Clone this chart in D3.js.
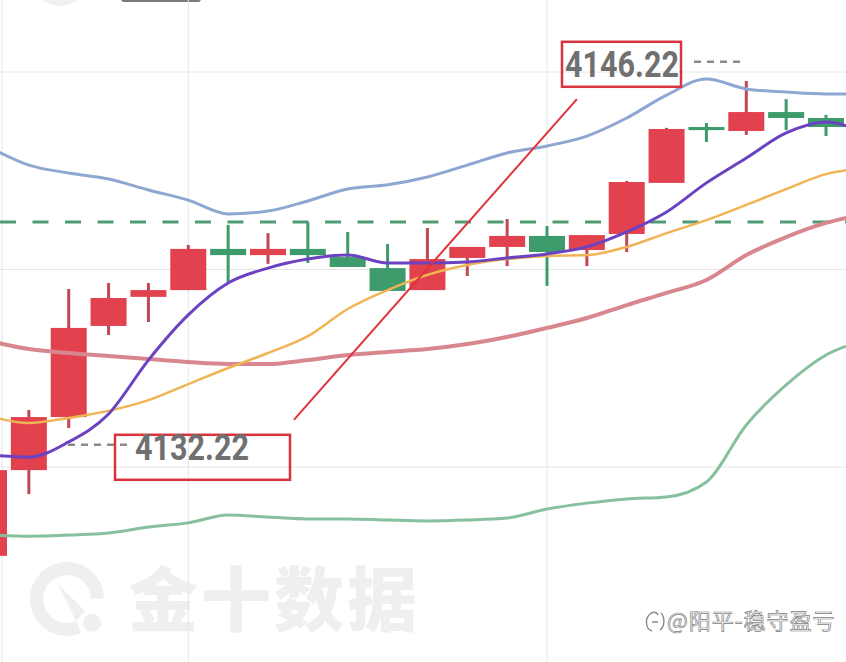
<!DOCTYPE html>
<html lang="zh">
<head>
<meta charset="utf-8">
<title>K线</title>
<style>
  html, body { margin: 0; padding: 0; background: #fff; }
  svg { display: block; }
</style>
</head>
<body>
<svg id="chart"></svg>
<script src="https://cdn.jsdelivr.net/npm/d3@7"></script>
<script>
const width = 846;
const height = 662;

// candles, left to right (first one is cut by the left edge)
const opens  = [4128.85, 4131.89, 4133.77, 4137.00, 4138.03, 4138.27, 4139.73, 4139.51, 4139.73, 4139.44, 4139.05,
                4138.27, 4139.41, 4139.80, 4140.19, 4139.69, 4140.26, 4142.07, 4144.05, 4143.91, 4144.58, 4144.37];
const closes = [4131.89, 4133.77, 4136.93, 4137.99, 4138.27, 4139.73, 4139.51, 4139.73, 4139.51, 4139.09, 4138.24,
                4139.37, 4139.80, 4140.19, 4139.62, 4140.22, 4142.10, 4143.98, 4143.94, 4144.58, 4144.37, 4144.05];
const highs  = [4131.96, 4134.02, 4138.31, 4138.52, 4138.52, 4139.87, 4140.58, 4140.29, 4140.68, 4140.33, 4139.90,
                4140.47, 4139.80, 4140.79, 4140.54, 4140.22, 4142.14, 4144.02, 4144.19, 4145.68, 4145.04, 4144.48];
const lows   = [4128.70, 4131.04, 4133.38, 4136.68, 4137.14, 4138.27, 4138.52, 4139.20, 4139.23, 4139.09, 4138.24,
                4138.27, 4138.77, 4139.12, 4138.42, 4139.12, 4139.62, 4142.07, 4143.52, 4143.77, 4143.94, 4143.73];

// bollinger bands + moving averages (one value per candle, last one runs past the edge)
const bollUpper = [4143.34, 4142.70, 4142.42, 4142.21, 4141.82, 4141.46, 4140.97, 4141.07, 4141.43, 4141.85, 4142.00, 4142.28,
                   4142.70, 4143.13, 4143.38, 4143.73, 4144.37, 4145.18, 4145.75, 4145.40, 4145.29, 4145.22, 4145.22];
const bollMid   = [4136.47, 4136.18, 4136.04, 4135.93, 4135.83, 4135.72, 4135.65, 4135.65, 4135.79, 4135.97, 4136.08, 4136.18,
                   4136.36, 4136.61, 4136.93, 4137.28, 4137.74, 4138.17, 4138.63, 4139.51, 4140.15, 4140.65, 4140.97];
const bollLower = [4129.59, 4129.55, 4129.59, 4129.66, 4129.87, 4130.02, 4130.30, 4130.23, 4130.16, 4130.16, 4130.12, 4130.09,
                   4130.12, 4130.19, 4130.51, 4130.72, 4130.87, 4130.94, 4131.47, 4133.49, 4134.91, 4135.97, 4136.50];
const ma5  = [4132.43, 4132.35, 4132.89, 4133.88, 4135.79, 4137.39, 4138.52, 4139.05, 4139.37, 4139.51, 4139.23, 4139.23,
              4139.27, 4139.41, 4139.55, 4139.80, 4140.33, 4141.04, 4142.07, 4142.95, 4143.84, 4144.23, 4143.80];
const ma10 = [4133.81, 4133.56, 4133.74, 4133.99, 4134.37, 4134.94, 4135.51, 4136.04, 4136.64, 4137.60, 4138.27, 4138.81,
              4139.16, 4139.37, 4139.48, 4139.51, 4139.80, 4140.29, 4140.75, 4141.29, 4141.85, 4142.38, 4142.60];

const gridPrices = [4146, 4139, 4132];
const gridCandles = [5, 14];
const dashLevel = 4140.68;
const trendLine = [[7.65, 4133.67], [14.75, 4145.04]];
const highLabel = 4146.22;
const lowLabel = 4132.22;

const red = "#e2414e";
const redWick = "#c04851";
const green = "#3e9b6c";

const svg = d3.select("#chart")
    .attr("width", width)
    .attr("height", height);

const x = d3.scaleLinear().domain([0, 21]).range([-11, 826]);
const y = d3.scaleLinear().domain([4132, 4146]).range([467, 72]);

// bits of app ui peeking at the top
svg.append("circle").attr("cx", 60).attr("cy", -22).attr("r", 28).attr("fill", "#f0f0f0");
svg.append("rect").attr("x", 121).attr("y", -6).attr("width", 80).attr("height", 8).attr("rx", 3).attr("fill", "#7a7a7a");

// watermark
const wm = svg.append("g").attr("fill", "#efefef");
wm.append("path")
    .attr("d", d3.arc().innerRadius(24).outerRadius(37).startAngle(2.75).endAngle(2.75 + Math.PI * 1.62)())
    .attr("transform", "translate(67,599)");
wm.append("path").attr("d", "M58,584 L85,611 L76,621 Z");
wm.append("circle").attr("cx", 92).attr("cy", 623).attr("r", 9);
wm.append("text")
    .attr("x", 128).attr("y", 626)
    .attr("font-family", "Noto Sans CJK SC")
    .attr("font-weight", 900)
    .attr("font-size", 70)
    .attr("letter-spacing", 3)
    .text("金十数据");

// grid
svg.append("line").attr("x1", 2).attr("x2", 2).attr("y1", 0).attr("y2", height)
    .attr("stroke", "#e4e4e4");
svg.selectAll(".hgrid").data(gridPrices).enter().append("line")
    .attr("class", "hgrid")
    .attr("x1", 0).attr("x2", width)
    .attr("y1", d => y(d)).attr("y2", d => y(d))
    .attr("stroke", "#e6e6e6");
svg.selectAll(".vgrid").data(gridCandles).enter().append("line")
    .attr("class", "vgrid")
    .attr("x1", d => x(d)).attr("x2", d => x(d))
    .attr("y1", 0).attr("y2", height)
    .attr("stroke", "#e6e6e6");

// green dashed level
svg.append("line")
    .attr("x1", 0).attr("x2", width)
    .attr("y1", y(dashLevel)).attr("y2", y(dashLevel))
    .attr("stroke", "#4f9c72")
    .attr("stroke-width", 3)
    .attr("stroke-dasharray", "16,16.5");

// candles
const candles = opens.map((o, i) => ({ i, o, c: closes[i], h: highs[i], l: lows[i] }));
const g = svg.selectAll(".candle").data(candles).enter().append("g").attr("class", "candle");
g.append("line")
    .attr("x1", d => x(d.i)).attr("x2", d => x(d.i))
    .attr("y1", d => y(d.h)).attr("y2", d => y(d.l))
    .attr("stroke", d => d.c >= d.o ? redWick : green)
    .attr("stroke-width", 3);
g.append("rect")
    .attr("x", d => x(d.i) - 18)
    .attr("width", 36)
    .attr("y", d => y(Math.max(d.o, d.c)))
    .attr("height", d => Math.max(Math.abs(y(d.o) - y(d.c)), 3))
    .attr("fill", d => d.c >= d.o ? red : green);

// indicator lines
const line = d3.line().x((d, i) => x(i)).y(d => y(d)).curve(d3.curveMonotoneX);
const series = [
    { data: bollLower, color: "#86c09f", w: 3 },
    { data: bollMid, color: "#d9878e", w: 4 },
    { data: bollUpper, color: "#8ea6d2", w: 3 },
    { data: ma10, color: "#f0b455", w: 2.5 },
    { data: ma5, color: "#6a42c2", w: 3 }
];
svg.selectAll(".ind").data(series).enter().append("path")
    .attr("class", "ind")
    .attr("d", d => line(d.data))
    .attr("fill", "none")
    .attr("stroke", d => d.color)
    .attr("stroke-width", d => d.w)
    .attr("stroke-linejoin", "round");

// hand drawn red trend line
svg.append("line")
    .attr("x1", x(trendLine[0][0])).attr("y1", y(trendLine[0][1]))
    .attr("x2", x(trendLine[1][0])).attr("y2", y(trendLine[1][1]))
    .attr("stroke", "#e0323c")
    .attr("stroke-width", 2);

// price labels
function priceLabel(val, boxX, boxW, boxDy, textX, textDy, dashX1, dashX2, dashDy) {
    const yy = y(val);
    svg.append("line")
        .attr("x1", dashX1).attr("x2", dashX2)
        .attr("y1", yy + dashDy).attr("y2", yy + dashDy)
        .attr("stroke", "#8a8a8a")
        .attr("stroke-width", 2.5)
        .attr("stroke-dasharray", "7,6");
    svg.append("rect")
        .attr("x", boxX).attr("y", yy + boxDy)
        .attr("width", boxW).attr("height", 45)
        .attr("fill", "none")
        .attr("stroke", "#d9343e")
        .attr("stroke-width", 2.5);
    svg.append("text")
        .attr("x", textX).attr("y", yy + textDy)
        .attr("font-family", "Roboto")
        .attr("font-weight", 700)
        .attr("font-size", 37)
        .attr("fill", "#707070")
        .attr("textLength", 114)
        .attr("lengthAdjust", "spacingAndGlyphs")
        .text(val.toFixed(2));
}
priceLabel(highLabel, 562, 119, -24, 565, 11, 694, 742, -4);
priceLabel(lowLabel, 115, 175, -26, 135, -1, 68, 133, -16);

// author tag
const tag = svg.append("g");
tag.append("path")
    .attr("d", "M652,631 C645,629 645,618 650,614 C653,611 657,612 658,615 M652,622 L658,622 M661,613 C665,617 665,627 660,630")
    .attr("fill", "none")
    .attr("stroke", "#8a8a8a")
    .attr("stroke-width", 1.4);
tag.append("text")
    .attr("x", 667).attr("y", 629)
    .attr("font-family", "Noto Sans CJK SC")
    .attr("font-size", 22)
    .attr("letter-spacing", 1)
    .attr("fill", "#ffffff")
    .attr("stroke", "#7d7d7d")
    .attr("stroke-width", 0.7)
    .text("@阳平-稳守盈亏");
</script>
</body>
</html>
